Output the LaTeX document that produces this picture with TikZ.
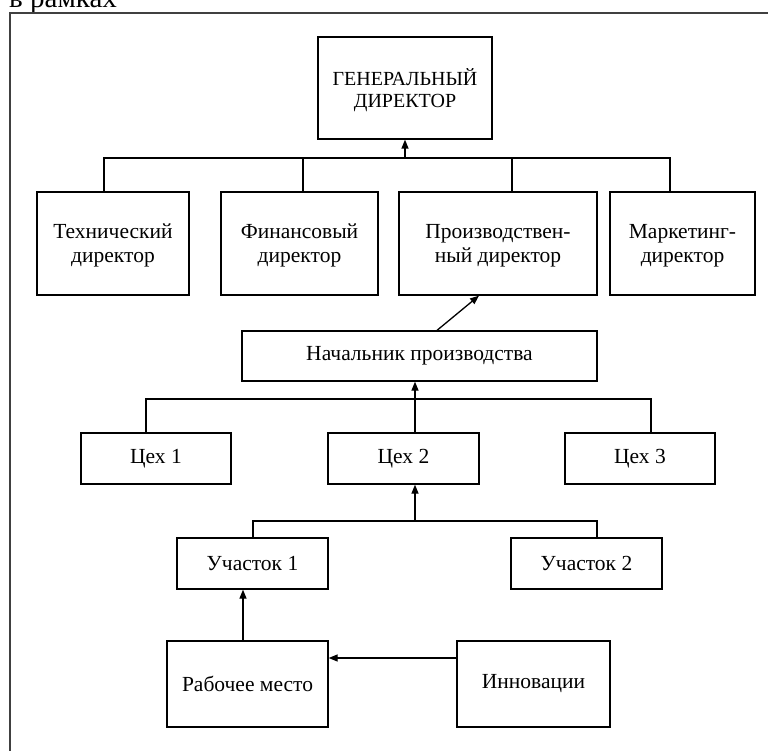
\documentclass[tikz,border=0pt]{standalone}
\usepackage{fontspec}
\setmainfont{Liberation Serif}
\usetikzlibrary{arrows.meta}
\begin{document}
\begin{tikzpicture}[x=1pt,y=-1pt,
  every node/.style={font=\fontsize{21.5}{24}\selectfont},
  unit/.style={draw,line width=1.3pt,inner sep=0pt,align=center,minimum height=51pt},
  tall/.style={unit,minimum height=103pt,text depth=0pt},
  link/.style={line width=1.3pt},
  arr/.style={link,-{Triangle[length=9pt,width=7pt]}},
  frame/.style={line width=1.8pt,draw=black!75}]
\useasboundingbox (0,0) rectangle (768,751);

% caption fragment and page frame
\node[anchor=base west,inner sep=0pt,font=\fontsize{29}{30}\selectfont] (cap) at (9,7.5) {в рамках};
\draw[frame] (10,760) -- (10,13) -- (780,13);

% top level
\node[unit,minimum width=174pt,minimum height=102pt,text depth=0pt,font=\fontsize{20}{22.5}\selectfont] (gd) at (405,88) {ГЕНЕРАЛЬНЫЙ\\ДИРЕКТОР};

% directors
\node[tall,minimum width=152pt] (tech) at (113,243.5) {Технический\\директор};
\node[tall,minimum width=157pt] (fin)  at (299.5,243.5) {Финансовый\\директор};
\node[tall,minimum width=198pt] (prod) at (498,243.5) {Производствен-\\ный директор};
\node[tall,minimum width=145pt] (mkt)  at (682.5,243.5) {Маркетинг-\\директор};

% production
\node[unit,minimum width=355pt,minimum height=50pt] (nach) at (419.5,356) {Начальник производства};

\node[unit,minimum width=150pt] (cex1) at (156,458.5) {Цех 1};
\node[unit,minimum width=151pt] (cex2) at (403.5,458.5) {Цех 2};
\node[unit,minimum width=150pt] (cex3) at (640,458.5) {Цех 3};

\node[unit,minimum width=151pt] (uch1) at (252.5,563.5) {Участок 1};
\node[unit,minimum width=151pt] (uch2) at (586.5,563.5) {Участок 2};

\node[unit,minimum width=161pt,minimum height=86pt] (rab) at (247.5,684) {Рабочее место};
\node[unit,minimum width=153pt,minimum height=86pt] (inn) at (533.5,684) {Инновации};

% bus under the general director
\coordinate (b1L) at (104,158);
\coordinate (b1F) at (303,158);
\coordinate (b1P) at (512,158);
\coordinate (b1R) at (670,158);
\draw[link] (b1L |- tech.north) -- (b1L) -- (b1R) -- (b1R |- mkt.north);
\draw[link] (b1F) -- (b1F |- fin.north);
\draw[link] (b1P) -- (b1P |- prod.north);
\draw[arr] (gd.south |- b1L) -- (gd.south);

% head of production reports to the production director
\draw[arr] ([xshift=17.5pt]nach.north) -- ([xshift=-19pt]prod.south);

% workshops bus
\coordinate (b2L) at (146,399);
\coordinate (b2M) at (415,399);
\coordinate (b2R) at (651,399);
\draw[link] (b2L |- cex1.north) -- (b2L) -- (b2R) -- (b2R |- cex3.north);
\draw[arr] (b2M |- cex2.north) -- (b2M |- nach.south);

% sections bus
\coordinate (b3L) at (253,521);
\coordinate (b3M) at (415,521);
\coordinate (b3R) at (597,521);
\draw[link] (b3L |- uch1.north) -- (b3L) -- (b3R) -- (b3R |- uch2.north);
\draw[arr] (b3M) -- (b3M |- cex2.south);

% workplace and innovations
\draw[arr] ([xshift=-4.5pt]rab.north) -- ([xshift=-4.5pt]rab.north |- uch1.south);
\draw[arr] ([yshift=26pt]inn.west) -- ([yshift=26pt]inn.west -| rab.east);
\end{tikzpicture}
\end{document}
